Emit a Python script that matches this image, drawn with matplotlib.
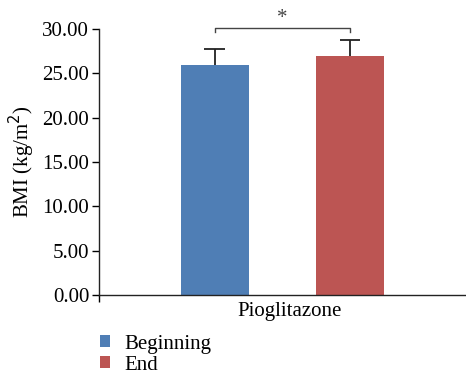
import matplotlib.pyplot as plt
import numpy as np

plt.rcParams['font.family'] = ['Liberation Serif', 'DejaVu Serif']

# data
groups = ["Beginning", "End"]
bmi_mean = [25.93, 26.95]
bmi_sd = [1.77, 1.76]
colors = ["#4F7EB5", "#BC5553"]
category = "Pioglitazone"

fs = 15

fig = plt.figure(figsize=(4.66, 3.75), dpi=100)
ax = fig.add_axes([99/466, 80/375, 366/466, 266/375])

offsets = [-0.184, 0.186]
width = 0.185
cap = 0.028
handles = []
for name, m, sd, c, off in zip(groups, bmi_mean, bmi_sd, colors, offsets):
    b = ax.bar(off, m, width=width, color=c, label=name, zorder=2)
    # upper error bar only
    ax.vlines(off, m, m + sd, color="#222222", lw=1.3, zorder=3)
    ax.hlines(m + sd, off - cap, off + cap, color="#222222", lw=1.3, zorder=3)
    handles.append(b)

# significance bracket
y_br = 30.1
ax.plot([offsets[0], offsets[0], offsets[1], offsets[1]],
        [y_br - 0.45, y_br, y_br, y_br - 0.45],
        color="#444444", lw=1.0, clip_on=False)
ax.text(0, y_br + 0.05, "*", ha="center", va="bottom", fontsize=15,
        color="#444444")

ax.set_xlim(-0.5, 0.5)
ax.set_ylim(0, 30)
yt = np.arange(0, 31, 5)
ax.set_yticks(yt)
ax.set_yticklabels([f"{v:.2f}" for v in yt], fontsize=fs)
ax.set_xticks([0.02])
ax.set_xticklabels([category], fontsize=fs)
ax.tick_params(axis="x", length=0, pad=5)
ax.set_xticks([-0.5], minor=True)
ax.tick_params(axis="x", which="minor", length=5, width=1, direction="out")
ax.tick_params(axis="y", length=5, width=1, direction="out", pad=2)
for s in ["top", "right"]:
    ax.spines[s].set_visible(False)
for s in ["left", "bottom"]:
    ax.spines[s].set_linewidth(1.0)
    ax.spines[s].set_color("#222222")

ax.set_ylabel("BMI (kg/m$^2$)", fontsize=fs, labelpad=4)

fig.legend(handles=handles, labels=groups, loc="upper left",
           bbox_to_anchor=(87/466, 1 - 322/375), frameon=False,
           fontsize=fs, handlelength=0.5, handleheight=0.5,
           handletextpad=0.7, labelspacing=0.1, borderpad=0.1)

fig.savefig("out.png", dpi=100)
